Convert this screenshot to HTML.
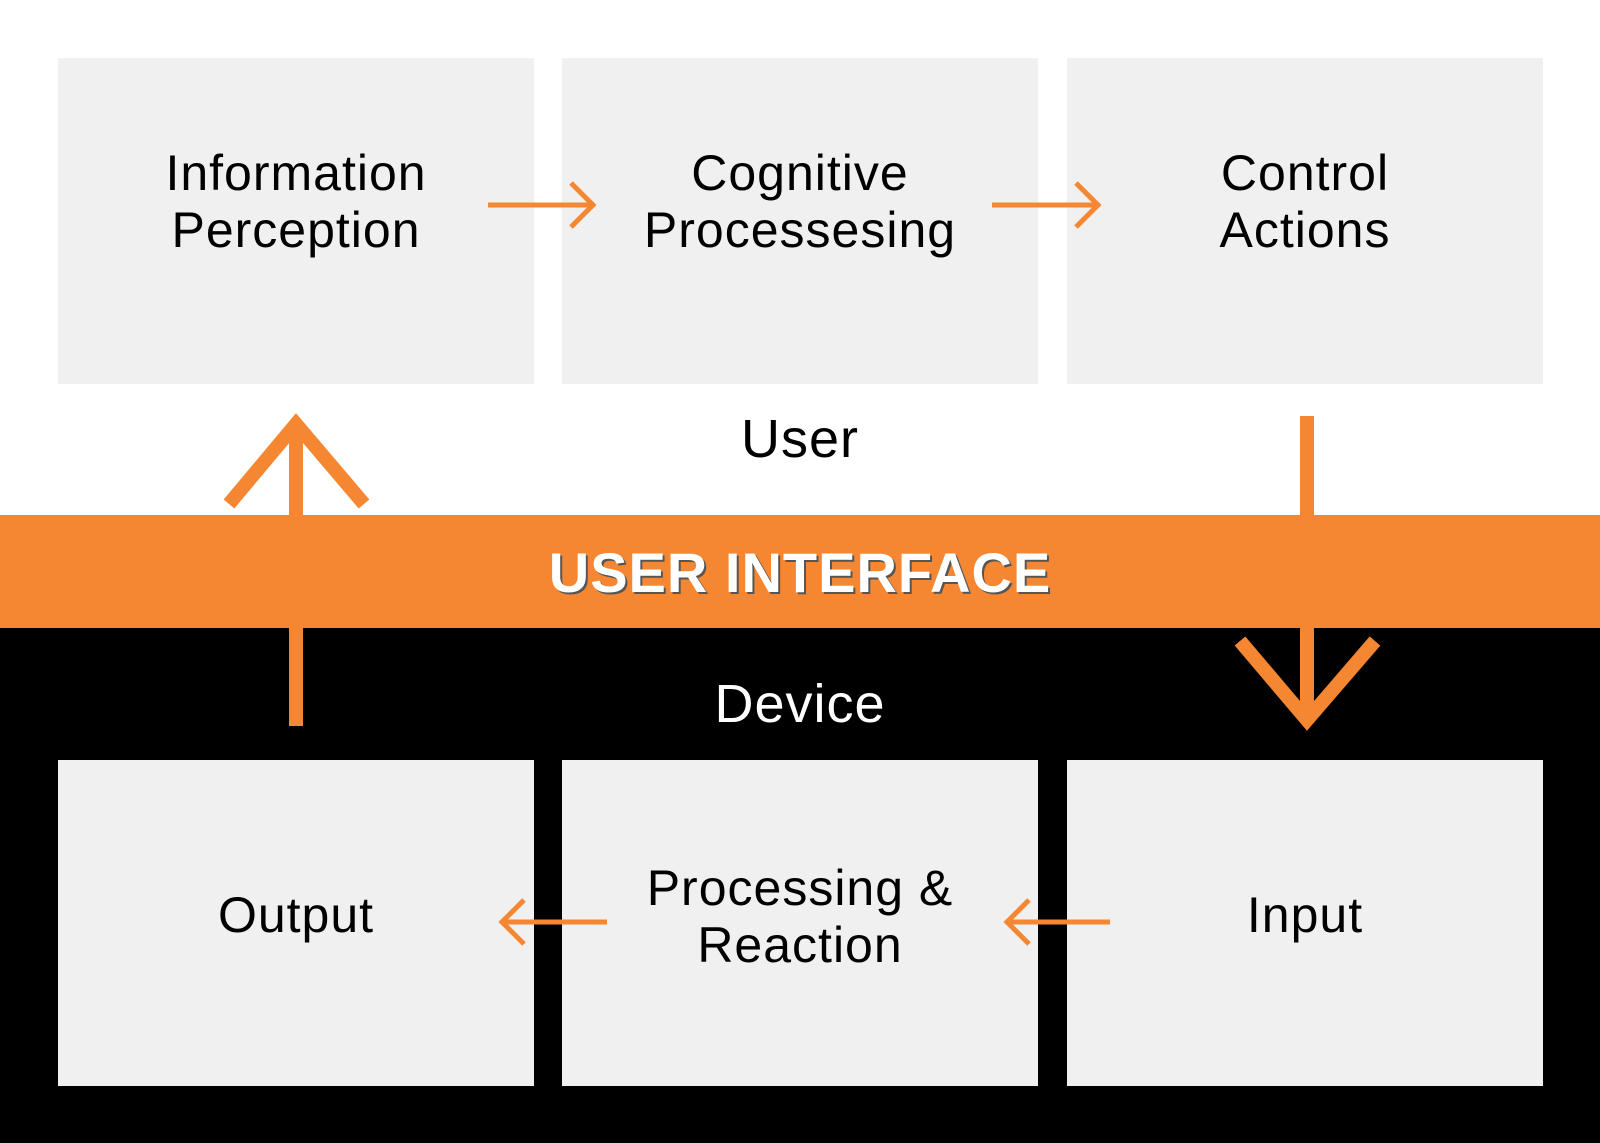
<!DOCTYPE html>
<html><head><meta charset="utf-8"><style>
html,body{margin:0;padding:0;background:#fff;}
svg{display:block;}
text{font-family:"Liberation Sans",sans-serif;}
</style></head><body>
<svg width="1600" height="1143" viewBox="0 0 1600 1143" xmlns="http://www.w3.org/2000/svg">
<rect x="0" y="0" width="1600" height="1143" fill="#fff"/>
<rect x="0" y="628" width="1600" height="515" fill="#000"/>
<rect x="0" y="515" width="1600" height="113" fill="#f58733"/>
<g fill="#f0f0f0">
<rect x="58" y="58" width="476" height="326"/>
<rect x="562" y="58" width="476" height="326"/>
<rect x="1067" y="58" width="476" height="326"/>
<rect x="58" y="760" width="476" height="326"/>
<rect x="562" y="760" width="476" height="326"/>
<rect x="1067" y="760" width="476" height="326"/>
</g>
<g fill="#000" font-size="50" text-anchor="middle" letter-spacing="1">
<text x="296" y="190">Information</text>
<text x="296" y="247">Perception</text>
<text x="800" y="190">Cognitive</text>
<text x="800" y="247">Processesing</text>
<text x="1305" y="190">Control</text>
<text x="1305" y="247">Actions</text>
<text x="296" y="932">Output</text>
<text x="800" y="905">Processing &amp;</text>
<text x="800" y="962">Reaction</text>
<text x="1305" y="932">Input</text>
<text x="800" y="457" font-size="54">User</text>
</g>
<text x="800" y="722" font-size="54" fill="#fff" text-anchor="middle" letter-spacing="1">Device</text>
<text x="802" y="594" font-size="56" font-weight="bold" fill="#555" text-anchor="middle" letter-spacing="1">USER INTERFACE</text>
<text x="800" y="592" font-size="56" font-weight="bold" fill="#fff" text-anchor="middle" letter-spacing="1">USER INTERFACE</text>
<g stroke="#f58733" fill="none" stroke-width="5">
<path d="M488 205H593M571 183L593 205L571 227"/>
<path d="M992 205H1098M1076 183L1098 205L1076 227"/>
<path d="M607 922H502M524 900L502 922L524 944"/>
<path d="M1110 922H1007M1029 900L1007 922L1029 944"/>
</g>
<g stroke="#f58733" fill="none" stroke-width="14">
<path d="M296 726V422M229 504L296 424L364 504"/>
<path d="M1307 416V722M1240 641L1307 720L1375 641"/>
</g>
</svg>
</body></html>
